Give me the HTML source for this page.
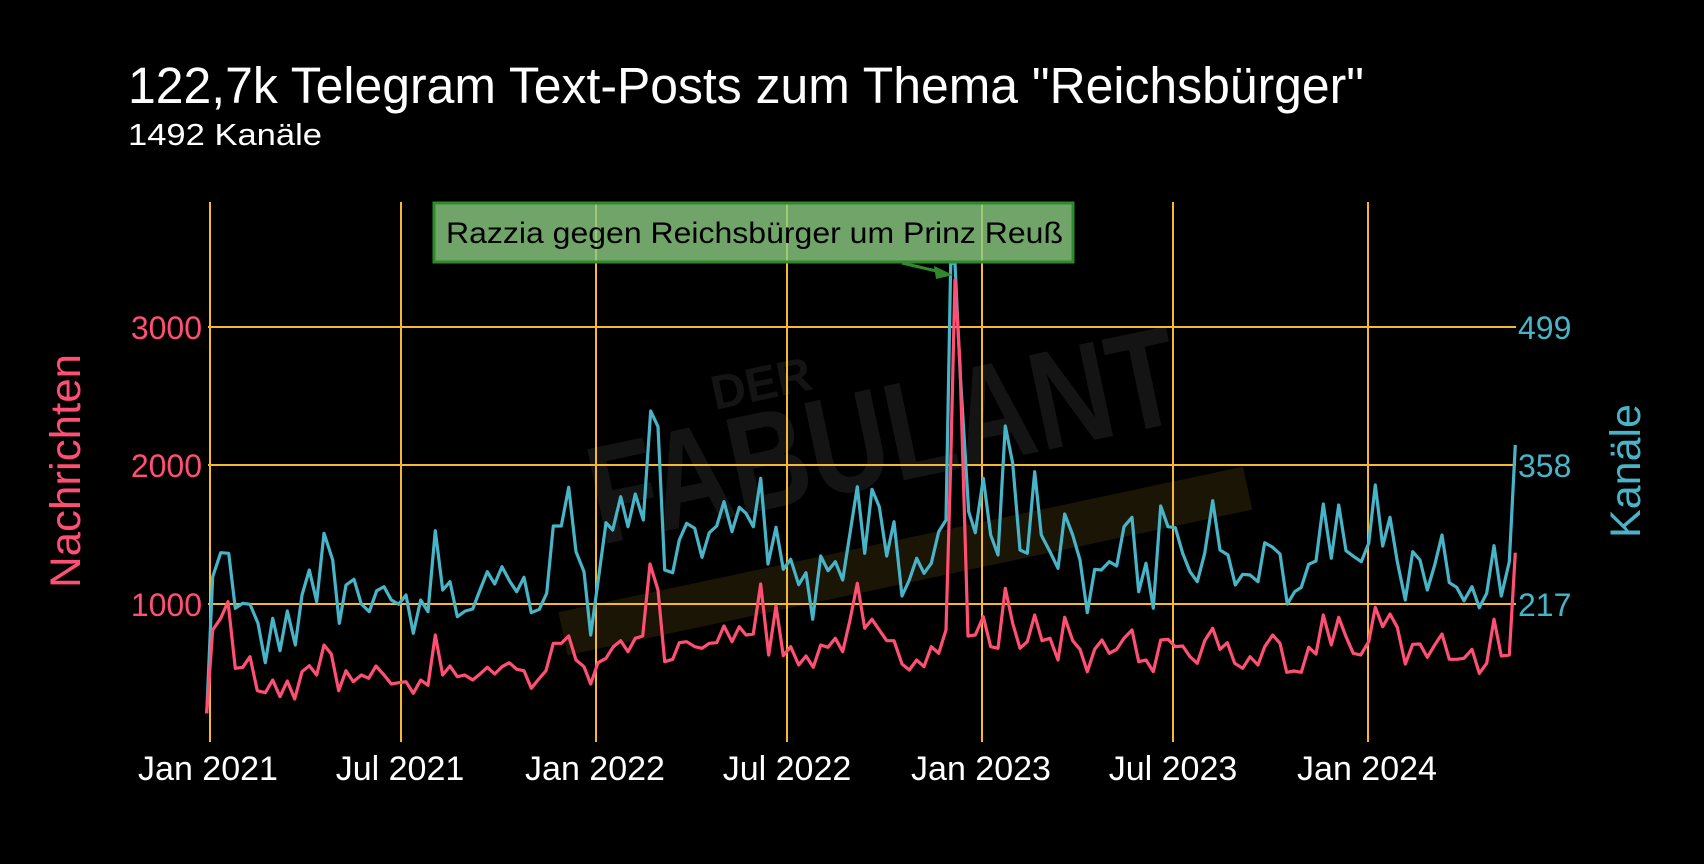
<!DOCTYPE html>
<html><head><meta charset="utf-8"><style>
html,body{margin:0;padding:0;background:#000;}
svg{display:block;}
text{font-family:"Liberation Sans",sans-serif;}
</style></head><body>
<svg id="s" width="1704" height="864" viewBox="0 0 1704 864" xmlns="http://www.w3.org/2000/svg">
<rect width="1704" height="864" fill="#000"/>
<!-- watermark -->
<g fill="#141414" font-weight="bold" font-family="Liberation Sans, sans-serif">
<text x="0" y="0" font-size="140" textLength="600" lengthAdjust="spacingAndGlyphs" transform="translate(600,545) rotate(-12)">FABULANT</text>
<text x="0" y="0" font-size="48" transform="translate(715,410) rotate(-12)">DER</text>
</g>
<rect x="555" y="540" width="700" height="44" fill="#1a1505" transform="rotate(-12 900 560)"/>
<text x="128" y="103" font-size="51" fill="#fff" textLength="1236" lengthAdjust="spacingAndGlyphs">122,7k Telegram Text-Posts zum Thema "Reichsbürger"</text>
<text x="128" y="145" font-size="31" fill="#fff" textLength="194" lengthAdjust="spacingAndGlyphs">1492 Kanäle</text>
<g stroke="#f5b82e" stroke-width="2">
<line x1="210" y1="202" x2="210" y2="742"/><line x1="401" y1="202" x2="401" y2="742"/>
<line x1="596" y1="202" x2="596" y2="742"/><line x1="787" y1="202" x2="787" y2="742"/>
<line x1="982" y1="202" x2="982" y2="742"/><line x1="1173" y1="202" x2="1173" y2="742"/>
<line x1="1368" y1="202" x2="1368" y2="742"/>
<line x1="208" y1="327" x2="1516" y2="327"/><line x1="208" y1="465" x2="1516" y2="465"/><line x1="208" y1="604" x2="1516" y2="604"/>
</g>
<g font-size="32" fill="#ff4f72" text-anchor="end">
<text x="202" y="339">3000</text><text x="202" y="477">2000</text><text x="202" y="616">1000</text>
</g>
<g font-size="32" fill="#48b4c8">
<text x="1518" y="339">499</text><text x="1518" y="477">358</text><text x="1518" y="616">217</text>
</g>
<text transform="translate(80,471) rotate(-90)" font-size="43" fill="#ff4f72" text-anchor="middle" textLength="234" lengthAdjust="spacingAndGlyphs">Nachrichten</text>
<text transform="translate(1640,471) rotate(-90)" font-size="43" fill="#48b4c8" text-anchor="middle" textLength="134" lengthAdjust="spacingAndGlyphs">Kanäle</text>
<g font-size="34" fill="#fff" text-anchor="middle">
<text x="208" y="780">Jan 2021</text><text x="400" y="780">Jul 2021</text><text x="595" y="780">Jan 2022</text>
<text x="787" y="780">Jul 2022</text><text x="981" y="780">Jan 2023</text><text x="1173" y="780">Jul 2023</text>
<text x="1367" y="780">Jan 2024</text>
</g>
<polyline id="blue" fill="none" stroke="#48b4c8" stroke-width="3.2" stroke-linejoin="round"/>
<polyline id="red" fill="none" stroke="#ff4f72" stroke-width="3.2" stroke-linejoin="round"/>
<rect x="434" y="203" width="639" height="59" fill="rgb(140,205,130)" fill-opacity="0.8" stroke="#2f8a2c" stroke-width="3"/>
<text x="446" y="243" font-size="30" fill="#000" textLength="617" lengthAdjust="spacingAndGlyphs">Razzia gegen Reichsbürger um Prinz Reuß</text>
<line x1="902" y1="263" x2="945" y2="273" stroke="#2f8a2c" stroke-width="3"/>
<polygon points="953,275 934,266 936,279" fill="#2f8a2c"/>
</svg>
<script>
function conv(arr,ox,oy,from,to){var o=[];for(var i=0;i<arr.length;i+=2){var px=arr[i];if(px<from||px>to)continue;o.push((ox+px/3).toFixed(1)+","+(oy+arr[i+1]/3).toFixed(1));}return o;}
var b2=[20,1000,38,590,62,518,86,520,106,685,128,670,150,673,174,730,196,848,218,715,240,812,262,693,286,795,306,645,328,570,350,665,372,460,398,540,418,730,438,615,462,598,484,672,508,695,530,632,552,620,574,660,596,673,618,645,640,760,662,660,684,695,706,452,728,630,750,605,772,710,796,693,818,687,840,630,862,575,884,612,906,560,930,605,950,635,972,592,994,698];
var r2=[20,1000,38,750,62,715,84,665,106,865,128,862,150,830,172,932,196,938,218,900,240,950,262,903,284,957,306,875,328,857,350,885,372,795,394,822,416,932,438,872,460,905,484,885,506,895,528,858,552,885,574,912,596,908,618,905,640,940,662,900,684,916,706,765,728,885,750,858,772,890,794,885,818,900,840,882,862,862,884,882,906,860,928,848,950,868,972,872,994,925];
var b3=[28,688,50,640,70,438,94,438,116,322,138,515,162,575,182,765,206,590,228,428,248,450,272,350,294,440,316,342,340,420,362,93,384,140,404,570,428,578,448,480,470,430,494,445,516,532,538,458,560,438,582,365,606,455,628,382,648,400,670,440,692,295,714,552,738,442,760,568,782,538,806,614,828,578,848,718,872,528,894,572,916,545,938,600,960,460,982,320,1004,520];
var r3=[24,900,48,872,70,790,94,790,116,768,138,840,162,860,182,912,204,848,228,835,250,800,272,782,294,815,316,775,338,768,360,552,384,630,404,845,428,838,448,788,470,785,494,800,516,805,538,790,560,788,582,738,606,785,628,740,648,765,670,762,692,612,716,825,738,678,760,827,782,800,806,855,828,828,850,862,872,795,894,802,916,775,938,815,960,720,982,610,1004,745];
var b4=[36,778,58,830,80,978,102,875,126,1098,148,1050,170,985,192,1030,214,1000,236,905,258,870,272,100,285,100,300,420,326,845,346,908,370,745,392,915,414,975,436,588,458,700,480,960,502,970,524,725,544,915,570,965,594,1015,614,852,638,915,660,990,682,1148,704,1018,724,1020,748,995,770,1008,792,890,816,862,836,1085,858,1000,880,1135,902,828,924,890,946,893,968,970,990,1025];
var r4=[36,1168,58,1200,80,1232,102,1232,126,1302,148,1320,170,1290,192,1310,214,1250,236,1270,258,1200,272,700,285,150,300,400,324,1218,346,1215,370,1160,392,1250,414,1255,436,1075,458,1180,480,1255,502,1235,524,1155,546,1232,570,1225,594,1290,614,1162,638,1232,660,1258,682,1325,704,1258,726,1230,748,1270,770,1258,792,1225,816,1200,836,1295,858,1290,880,1325,902,1230,924,1228,946,1250,968,1248,990,1280];
var b5=[22,605,44,520,68,362,90,510,114,525,136,615,158,583,180,585,204,605,224,488,248,502,270,522,292,672,314,635,334,622,356,553,378,543,400,372,424,535,446,375,468,512,492,530,514,545,536,490,556,315,578,498,600,412,622,545,646,660,668,515,690,540,712,630,734,555,756,465,778,608,800,622,822,662,846,620,868,683,890,640,912,497,934,648,958,545,976,195];
var r5=[22,850,44,782,68,745,90,808,112,788,134,850,158,865,180,830,204,855,224,800,248,765,270,790,290,877,312,873,334,877,356,802,378,822,400,705,424,795,446,712,468,770,490,820,512,825,536,785,556,682,578,740,600,702,622,742,646,852,668,793,690,792,712,832,734,795,756,762,778,838,800,838,822,835,846,808,868,880,890,850,912,718,934,828,958,825,976,518];
var B=[].concat(conv(b2,200,380,0,999),conv(b3,530,380,0,9999),conv(b4,860,230,0,9999),conv(b5,1190,380,0,9999));
var R=[].concat(conv(r2,200,380,0,999),conv(r3,530,380,0,9999),conv(r4,860,230,0,9999),conv(r5,1190,380,0,9999));
document.getElementById("blue").setAttribute("points",B.join(" "));
document.getElementById("red").setAttribute("points",R.join(" "));
</script>
</body></html>
